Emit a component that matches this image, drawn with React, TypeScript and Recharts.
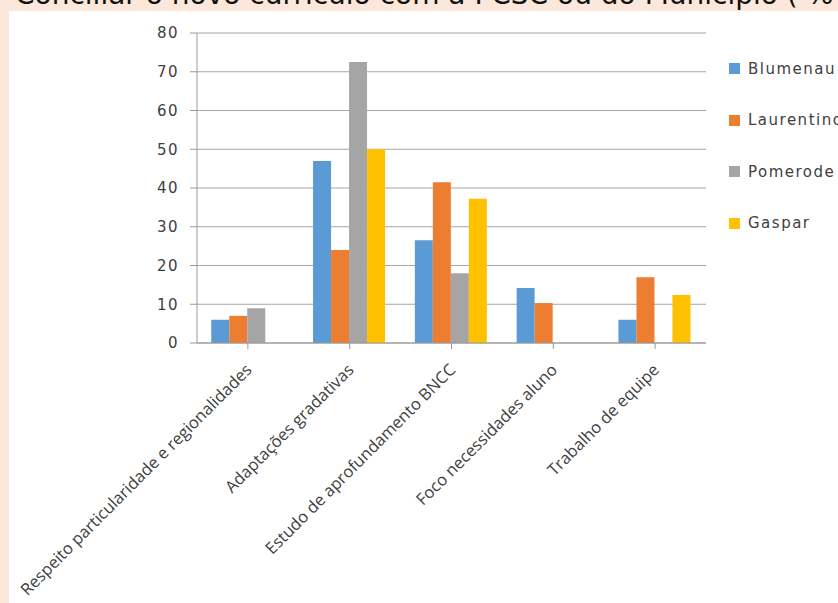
import React from "react";
import { BarChart, Bar, XAxis, YAxis, CartesianGrid } from "recharts";

const categories = [
  "Respeito particularidade e regionalidades",
  "Adaptações gradativas",
  "Estudo de aprofundamento BNCC",
  "Foco necessidades aluno",
  "Trabalho de equipe",
];
const blumenau = [6, 47, 26.5, 14.2, 6];
const laurentino = [7, 24, 41.5, 10.3, 17];
const pomerode = [9, 72.5, 18, 0, 0];
const gaspar = [0, 50, 37.2, 0, 12.4];
const yTicks = [0, 10, 20, 30, 40, 50, 60, 70, 80];
const title = "Conciliar o novo currículo com a PCSC ou do Município ( %";

const series = [
  { key: "Blumenau", values: blumenau, color: "#5B9BD5" },
  { key: "Laurentino", values: laurentino, color: "#ED7D31" },
  { key: "Pomerode", values: pomerode, color: "#A5A5A5" },
  { key: "Gaspar", values: gaspar, color: "#FFC000" },
];

const data = categories.map((c, i) => {
  const row: any = { name: c };
  series.forEach((s) => (row[s.key] = s.values[i]));
  return row;
});

const XTick = (props: any) => {
  const { x, y, payload } = props;
  const px = x + 5;
  const py = y + 20;
  return (
    <text
      x={px}
      y={py}
      transform={`rotate(-45, ${px}, ${py})`}
      textAnchor="end"
      fontFamily="'Open Sans', sans-serif"
      fontSize={16.5}
      fill="#404040"
    >
      {payload.value}
    </text>
  );
};

const YTick = (props: any) => {
  const { x, y, payload } = props;
  return (
    <text
      x={x}
      y={y}
      dy="0.36em"
      textAnchor="end"
      fontFamily="'DejaVu Sans', Verdana, sans-serif"
      fontSize={15}
      letterSpacing={1.5}
      fill="#404040"
    >
      {payload.value}
    </text>
  );
};

const LegendBox = () => (
  <div
    style={{
      position: "absolute",
      left: 729,
      top: 43,
      fontFamily: "'DejaVu Sans', Verdana, sans-serif",
      fontSize: 15,
      color: "#404040",
    }}
  >
    {series.map((s) => (
      <div key={s.key} style={{ display: "flex", alignItems: "center", height: 51.5, whiteSpace: "nowrap" }}>
        <span style={{ display: "inline-block", width: 11, height: 11, background: s.color, marginRight: 8 }} />
        <span style={{ letterSpacing: 1.5 }}>{s.key}</span>
      </div>
    ))}
  </div>
);

export default function App() {
  return (
    <div
      style={{
        position: "absolute",
        left: 0,
        top: 0,
        width: 838,
        height: 603,
        overflow: "hidden",
        background: "#FCE8DA",
      }}
    >
      <div
        style={{
          position: "absolute",
          left: 15,
          top: -22,
          fontFamily: "'DejaVu Sans', Verdana, sans-serif",
          fontSize: 28,
          color: "#111",
          whiteSpace: "nowrap",
        }}
      >
        {title}
      </div>
      <div style={{ position: "absolute", left: 9, top: 11, width: 829, height: 592, background: "#fff" }} />
      <div style={{ position: "absolute", left: 0, top: 0 }}>
        <BarChart
          width={838}
          height={603}
          data={data}
          margin={{ top: 33, right: 132, bottom: 0, left: 0 }}
          barCategoryGap="14%"
          barGap={0}
        >
          <CartesianGrid vertical={false} stroke="#A6A6A6" strokeWidth={1.2} />
          <XAxis
            dataKey="name"
            height={260}
            interval={0}
            tick={<XTick />}
            tickSize={6}
            stroke="#999"
            tickLine={{ stroke: "#999" }}
            axisLine={{ stroke: "#999" }}
          />
          <YAxis
            width={197}
            domain={[0, 80]}
            ticks={yTicks}
            interval={0}
            tickSize={7}
            tickMargin={11}
            axisLine={{ stroke: "#999" }}
            tickLine={{ stroke: "#999" }}
            tick={<YTick />}
          />
          {series.map((s) => (
            <Bar key={s.key} dataKey={s.key} fill={s.color} isAnimationActive={false} />
          ))}
        </BarChart>
      </div>
      <LegendBox />
    </div>
  );
}
